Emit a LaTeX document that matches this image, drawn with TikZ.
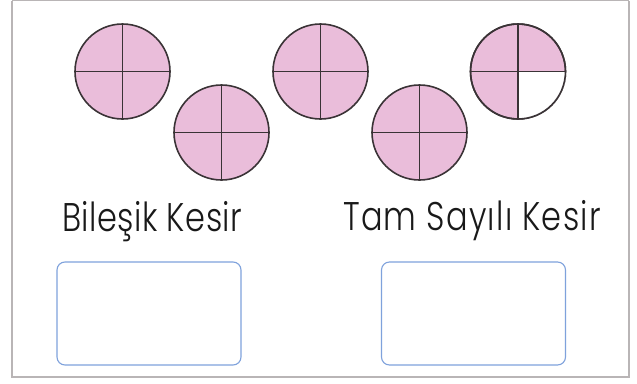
\documentclass[tikz,border=0pt]{standalone}
\usepackage{fontspec}
\setmainfont{Poppins}[UprightFont={* Light}, FakeStretch=0.8, LetterSpace=1.2]
\newfontfamily\widerlabel{Poppins}[UprightFont={* Light}, FakeStretch=0.8, LetterSpace=3.2]
\definecolor{pinkfill}{HTML}{EABDDA}
\definecolor{pieline}{HTML}{3A3336}
\definecolor{boxblue}{HTML}{7FA2DC}
\definecolor{framegray}{HTML}{B9B5B6}
\begin{document}
\begin{tikzpicture}[x=1pt,y=-1pt,
  pie/.style={circle, draw=pieline, line width=1.6pt, fill=pinkfill, minimum size=95pt, inner sep=0pt},
  cut/.style={draw=pieline, line width=1.4pt},
  ansbox/.style={draw=boxblue, line width=1.1pt, rounded corners=8pt, minimum width=184pt, minimum height=103pt, inner sep=0pt},
  label/.style={anchor=base west, inner sep=0pt, font=\fontsize{40}{40}\selectfont, text=black!90}]
\useasboundingbox (0,0) rectangle (637,383);
\fill[white] (0,0) rectangle (637,383);
\draw[framegray, line width=2pt] (12,0.5) -- (12,377) -- (629,377) -- (629,0.5);
\draw[framegray, line width=1pt] (12,0.5) -- (629,0.5);
\node[pie] (c1) at (122.5,71.5) {};
\node[pie] (c2) at (221.5,132.5) {};
\node[pie] (c3) at (320.5,71.5) {};
\node[pie] (c4) at (419.5,132.5) {};
\node[pie] (c5) at (518,71.5) {};
\fill[white] (c5.center) -- (c5.east) arc[start angle=0, end angle=-90, radius=47.5pt] -- cycle;
\draw[pieline, line width=1.6pt] (c5) circle[radius=47.5pt];
\foreach \c in {c1,c2,c3,c4,c5} {
  \draw[cut] (\c.north) -- (\c.south);
  \draw[cut] (\c.west) -- (\c.east);
}
\node[label] (t1) at (62,231) {Bileşik Kesir};
\node[label, font=\widerlabel\fontsize{40}{40}\selectfont] (t2) at (343,230) {Tam Sayılı Kesir};
\node[ansbox] (b1) at (149,313.5) {};
\node[ansbox] (b2) at (473.5,313.5) {};
\end{tikzpicture}
\end{document}
